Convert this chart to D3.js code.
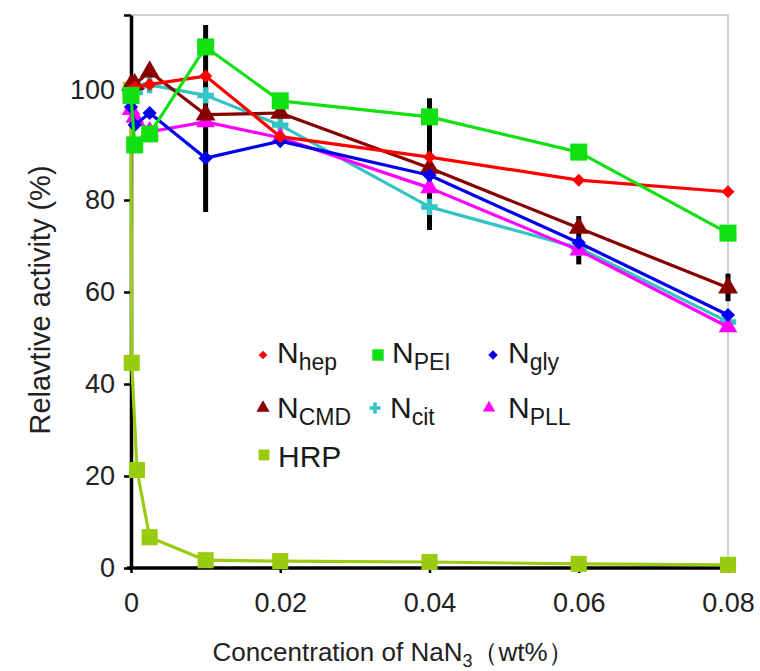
<!DOCTYPE html>
<html>
<head>
<meta charset="utf-8">
<script src="https://cdn.jsdelivr.net/npm/d3@7"></script>
<style>
  html, body { margin: 0; padding: 0; background: #fff; }
  svg { display: block; font-family: "Liberation Sans", Arial, sans-serif; }
</style>
</head>
<body>
<script>
// ---------- data ----------
const xN   = [0, 0.0005, 0.0025, 0.01, 0.02, 0.04, 0.06, 0.08];
const xHRP = [0, 0.0001, 0.0008, 0.0025, 0.01, 0.02, 0.04, 0.06, 0.08];

const nHep = [100, 100.5, 101, 102.5, 91.5, 87.8, 83.6, 81.5];
const nPEI = [99, 90, 92, 107.8, 98, 95.1, 88.7, 72.8];
const nGly = [96.9, 93.6, 95.8, 87.6, 90.7, 84.5, 70.7, 55];
const nCMD = [100.9, 101, 103.3, 95.5, 95.8, 85.8, 73.9, 60.9];
const nCit = [99.5, 99.5, 100.9, 99, 93.6, 78.5, 69.6, 53.5];
const nPLL = [96.4, 95, 92.4, 94.2, 91.3, 82.2, 69.1, 52.4];
const hrp  = [100, 44.6, 21.3, 6.7, 1.7, 1.5, 1.3, 0.9, 0.7];

const errX  = [0.01, 0.04, 0.06, 0.08];
const errLo = [77.4, 73.5, 66, 58];
const errHi = [111.8, 98.5, 76.5, 64];

const yTicks = [0, 20, 40, 60, 80, 100];
const xTicks = [0, 0.02, 0.04, 0.06, 0.08];

const seriesNames = ["HRP", "Ncit", "NPLL", "NCMD", "Ngly", "Nhep", "NPEI"];

// ---------- styles ----------
const W = 760, H = 671;
const style = {
  HRP:  {color: "#99cc11", sym: d3.symbolSquare,   size: 260, rot: 0},
  Ncit: {color: "#33c4c4", sym: d3.symbolCross,    size: 150, rot: 0},
  NPLL: {color: "#ff00ff", sym: d3.symbolTriangle, size: 150, rot: 0},
  NCMD: {color: "#880000", sym: d3.symbolTriangle, size: 170, rot: 0},
  Ngly: {color: "#0000ee", sym: d3.symbolSquare,   size: 100, rot: 45},
  Nhep: {color: "#ff0000", sym: d3.symbolSquare,   size: 85,  rot: 45},
  NPEI: {color: "#11e011", sym: d3.symbolSquare,   size: 290, rot: 0}
};
const seriesData = {
  HRP: {x: xHRP, y: hrp}, Ncit: {x: xN, y: nCit}, NPLL: {x: xN, y: nPLL},
  NCMD: {x: xN, y: nCMD}, Ngly: {x: xN, y: nGly}, Nhep: {x: xN, y: nHep}, NPEI: {x: xN, y: nPEI}
};

const svg = d3.select("body").append("svg").attr("width", W).attr("height", H);

const x = d3.scaleLinear().domain([0, 0.08]).range([131, 728]);
const y = d3.scaleLinear().domain([0, 80, 113.6]).range([568, 200, 15]);

// frame (light grey top & right)
svg.append("path")
  .attr("d", `M${x(0)},${y(113.6)}H${x(0.08)}V${y(0)}`)
  .attr("fill", "none").attr("stroke", "#c4c4c4").attr("stroke-width", 1.5);

// error bars (behind the lines)
svg.append("g").selectAll("line").data(errX).join("line")
  .attr("x1", d => x(d)).attr("x2", d => x(d))
  .attr("y1", (d, i) => y(errLo[i])).attr("y2", (d, i) => y(errHi[i]))
  .attr("stroke", "#000").attr("stroke-width", 5);

// axes
const yAxis = svg.append("g").attr("transform", `translate(${x(0)},0)`)
  .call(d3.axisLeft(y).tickValues(yTicks.concat([113.6]))
    .tickFormat(d => d > 110 ? "" : d).tickSize(7).tickSizeOuter(0).tickPadding(9));
const xAxis = svg.append("g").attr("transform", `translate(0,${y(0)})`)
  .call(d3.axisBottom(x).tickValues(xTicks)
    .tickFormat(d => d === 0 ? "0" : d3.format(".2f")(d)).tickSize(5).tickSizeOuter(0).tickPadding(20));
[yAxis, xAxis].forEach(g => {
  g.select(".domain").attr("stroke", "#000").attr("stroke-width", 3.5);
  g.selectAll(".tick line").attr("stroke", "#000").attr("stroke-width", 2.5);
  g.selectAll(".tick text").attr("font-size", 27).attr("fill", "#222")
    .attr("font-family", "'Liberation Sans', Arial, sans-serif");
});
xAxis.select(".domain").attr("d", `M${x(0) - 4},0H${x(0.08)}`);

// series lines + markers
const line = d3.line().x(d => x(d[0])).y(d => y(d[1]));
seriesNames.forEach(name => {
  const s = seriesData[name];
  const pts = s.x.map((v, i) => [v, s.y[i]]);
  const st = style[name];
  svg.append("path").datum(pts).attr("d", line)
    .attr("fill", "none").attr("stroke", st.color).attr("stroke-width", 3.2)
    .attr("stroke-linejoin", "round");
  svg.append("g").selectAll("path").data(pts).join("path")
    .attr("d", d3.symbol(st.sym, st.size))
    .attr("transform", d => `translate(${x(d[0])},${y(d[1])}) rotate(${st.rot})`)
    .attr("fill", st.color);
});

// legend
const legendItems = [
  {name: "Nhep", main: "N", sub: "hep", mx: 263, my: 355, tx: 277, ty: 363},
  {name: "NPEI", main: "N", sub: "PEI", mx: 378, my: 355, tx: 392, ty: 363},
  {name: "Ngly", main: "N", sub: "gly", mx: 493, my: 355, tx: 508, ty: 363},
  {name: "NCMD", main: "N", sub: "CMD", mx: 263, my: 408, tx: 277, ty: 418},
  {name: "Ncit", main: "N", sub: "cit", mx: 375, my: 408, tx: 390, ty: 418},
  {name: "NPLL", main: "N", sub: "PLL", mx: 489, my: 408, tx: 508, ty: 418},
  {name: "HRP",  main: "HRP", sub: "",  mx: 264, my: 455, tx: 278, ty: 467}
];
const lg = svg.append("g");
legendItems.forEach(it => {
  const st = style[it.name];
  lg.append("path").attr("d", d3.symbol(st.sym, st.size * 0.45))
    .attr("transform", `translate(${it.mx},${it.my}) rotate(${st.rot})`).attr("fill", st.color);
  const t = lg.append("text").attr("x", it.tx).attr("y", it.ty)
    .attr("font-size", 30).attr("fill", "#1a1a1a").text(it.main);
  if (it.sub) t.append("tspan").attr("font-size", 23).attr("dy", 7).text(it.sub);
});

// axis titles
const xt = svg.append("text").attr("x", 393).attr("y", 661).attr("text-anchor", "middle")
  .attr("font-size", 26).attr("fill", "#222").text("Concentration of NaN");
xt.append("tspan").attr("font-size", 18).attr("dy", 6).text("3");
xt.append("tspan").attr("dy", -6).text("（wt%）");

svg.append("text").attr("transform", "translate(50,300) rotate(-90)")
  .attr("text-anchor", "middle").attr("font-size", 29).attr("fill", "#222")
  .text("Relavtive activity (%)");
</script>
</body>
</html>
